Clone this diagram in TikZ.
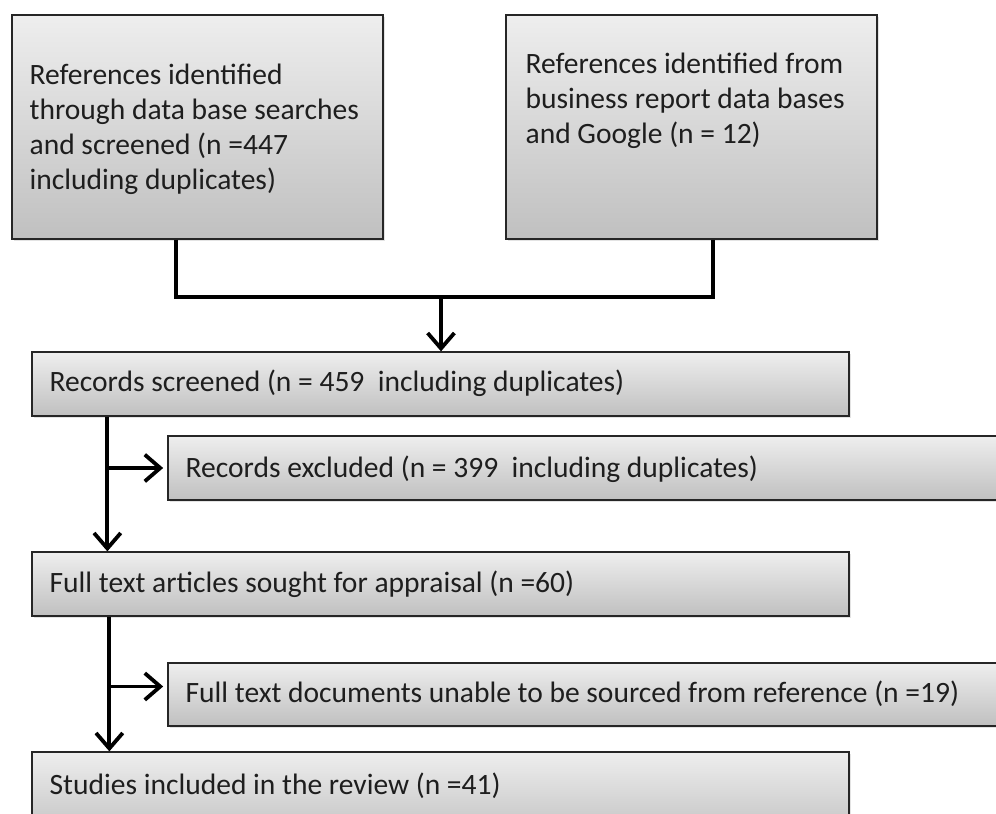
\documentclass[tikz,border=0pt]{standalone}
\usepackage{fontspec}
\setmainfont{Carlito}
\usetikzlibrary{calc,fit,shadows,arrows.meta}
\definecolor{boxtop}{RGB}{238,238,238}
\definecolor{boxbot}{RGB}{192,192,192}
\definecolor{inktext}{RGB}{30,30,30}

\begin{document}
\begin{tikzpicture}[x=0.025cm,y=-0.025cm,
  box/.style={draw=black!85,line width=0.9pt,top color=boxtop,bottom color=boxbot,
    drop shadow={opacity=0.22,shadow xshift=1.6pt,shadow yshift=-1.6pt},inner sep=0pt},
  txt/.style={inner sep=0pt,align=left,text=inktext,font=\fontsize{21}{24.9}\selectfont},
  link/.style={line width=2.7pt},
  arrow/.style={link,-{Straight Barb[length=11pt,width=19pt]}}]
  % page
  \useasboundingbox (0,0) rectangle (996,814);
  \clip (0,0) rectangle (996,814);

  % the two sources
  \node[box,fit={(12,15) (383,239)}] (refdb) {};
  \node[box,fit={(506,15) (877,239)}] (refbiz) {};
  \node[txt,anchor=north west] (refdbtext) at ($(refdb.north west)+(18,49)$)
    {References identified\\through data base searches\\and screened (n =447\\including duplicates)};
  \node[txt,anchor=north west] (refbiztext) at ($(refbiz.north west)+(20,38)$)
    {References identified from\\business report data bases\\and Google (n = 12)};

  % screening steps
  \node[box,fit={(32,352) (849,416)}] (screened) {};
  \node[box,fit={(168,436) (1010,500)}] (excluded) {};
  \node[box,fit={(32,552) (849,616)}] (fulltext) {};
  \node[box,fit={(168,663) (1010,726)}] (sourced) {};
  \node[box,fit={(32,752) (849,840)}] (included) {};

  \node[txt,anchor=base west] (screenedtext) at ($(screened.west)+(18,8)$)
    {Records screened (n = 459 \ including duplicates)};
  \node[txt,anchor=base west] (excludedtext) at ($(excluded.west)+(18,10)$)
    {Records excluded (n = 399 \ including duplicates)};
  \node[txt,anchor=base west] (fulltexttext) at ($(fulltext.west)+(18,8)$)
    {Full text articles sought for appraisal (n =60)};
  \node[txt,anchor=base west] (sourcedtext) at ($(sourced.west)+(18,8)$)
    {Full text documents unable to be sourced from reference (n =19)};
  \node[txt,anchor=base west] (includedtext) at ($(included.north west)+(18,43)$)
    {Studies included in the review (n =41)};

  % merge of the sources
  \coordinate (join) at (441,297);
  \draw[link] ($(refdb.south)+(-21.5,0)$) |- (join) -| ($(refbiz.south)+(21.5,0)$);
  \draw[arrow] (join) -- (join |- screened.north);

  % trunk lines with side branches
  \coordinate (trunkA) at ($(screened.south west)+(76,0)$);
  \coordinate (trunkB) at ($(fulltext.south west)+(78,0)$);
  \draw[arrow] (trunkA) -- (trunkA |- fulltext.north);
  \draw[arrow,shorten >=3pt] (trunkA |- excluded.west) -- (excluded.west);
  \draw[arrow] (trunkB) -- (trunkB |- included.north);
  \draw[arrow,shorten >=3pt] ($(trunkB |- sourced.west)+(0,-8)$) -- ($(sourced.west)+(0,-8)$);
\end{tikzpicture}
\end{document}
